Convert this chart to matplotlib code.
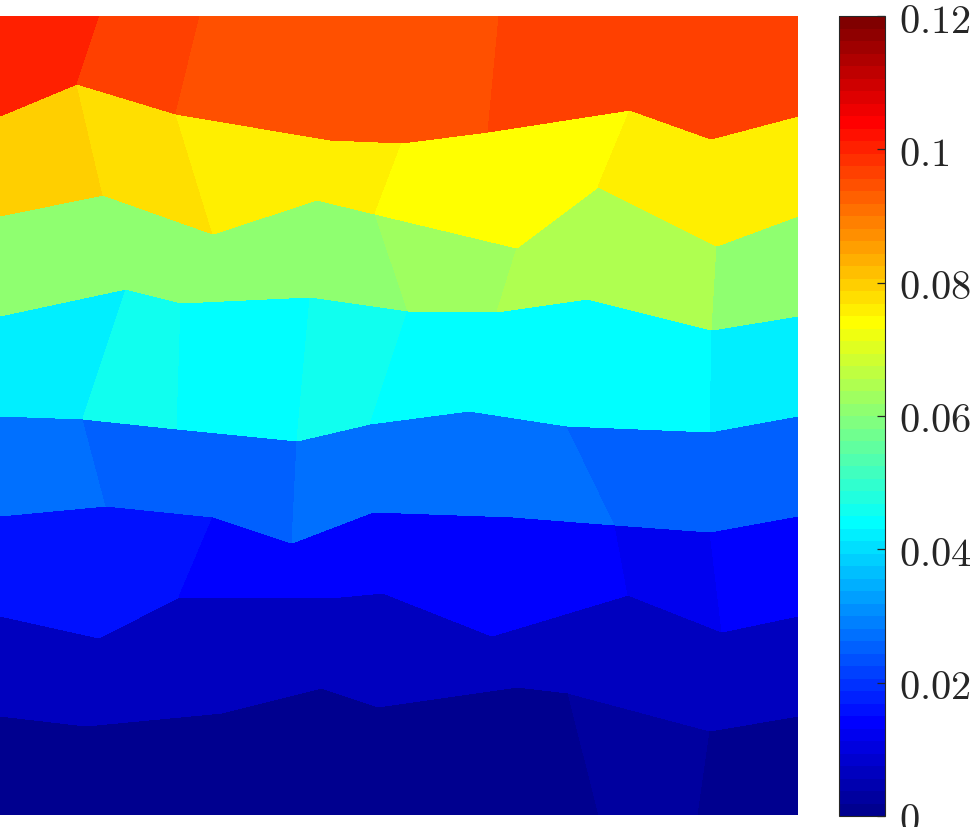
"""
Flat-shaded element field on a perturbed 8x8 quad mesh, MATLAB-style jet(64) colorbar.
"""

import numpy as np
import matplotlib
matplotlib.use("Agg")
import matplotlib.pyplot as plt
from matplotlib.colors import ListedColormap

plt.rcParams.update({
    "mathtext.fontset": "cm",
    "font.size": 29,
})

# ---------------------------------------------------------------------------
# Mesh nodes (9 x 9), row 0 = bottom edge y=0, row 8 = top edge y=1
# ---------------------------------------------------------------------------

node_x = np.array([
    [0, .125, .250, .375, .500, .625, .750, .875, 1],
    [0, .108, .278, .404, .474, .648, .712, .890, 1],
    [0, .124, .224, .414, .480, .617, .787, .905, 1],
    [0, .133, .267, .366, .467, .643, .771, .890, 1],
    [0, .104, .222, .372, .464, .588, .711, .890, 1],
    [0, .158, .227, .388, .511, .623, .736, .892, 1],
    [0, .129, .267, .397, .470, .648, .749, .898, 1],
    [0, .096, .221, .414, .504, .612, .789, .891, 1],
    [0, .125, .250, .375, .500, .625, .750, .875, 1],
])

node_y = np.array([
    [0, 0, 0, 0, 0, 0, 0, 0, 0],
    [.124, .111, .128, .159, .135, .160, .153, .105, .124],
    [.249, .222, .273, .272, .278, .224, .275, .229, .249],
    [.374, .387, .373, .340, .379, .373, .363, .354, .374],
    [.499, .496, .483, .468, .489, .506, .487, .479, .499],
    [.625, .658, .641, .648, .631, .630, .646, .607, .625],
    [.750, .776, .727, .770, .752, .710, .786, .712, .750],
    [.875, .915, .877, .845, .841, .855, .882, .846, .875],
    [1, 1, 1, 1, 1, 1, 1, 1, 1],
])

# element values (8 x 8), row 0 = bottom
elem_val = np.array([
    [.0009, .0009, .0009, .0009, .0009, .0009, .0028, .0009],
    [.0066, .0066, .0066, .0066, .0066, .0066, .0066, .0066],
    [.0159, .0159, .0141, .0141, .0141, .0141, .0122, .0141],
    [.0272, .0253, .0253, .0272, .0272, .0272, .0253, .0253],
    [.0422, .0459, .0441, .0459, .0441, .0441, .0441, .0422],
    [.0609, .0609, .0609, .0609, .0628, .0647, .0647, .0609],
    [.0797, .0778, .0759, .0759, .0741, .0741, .0759, .0759],
    [.1003, .0966, .0947, .0947, .0947, .0966, .0966, .0966],
])

cbar_ticks = [0, 0.02, 0.04, 0.06, 0.08, 0.1, 0.12]
cbar_labels = ["0", "0.02", "0.04", "0.06", "0.08", "0.1", "0.12"]


def matlab_jet(m=64):
    n = int(np.ceil(m / 4))
    u = np.concatenate([np.arange(1, n + 1) / n, np.ones(n - 1), np.arange(n, 0, -1) / n])
    g = int(np.ceil(n / 2)) - (1 if m % 4 == 1 else 0) + np.arange(1, len(u) + 1)
    J = np.zeros((m, 3))
    for ch, idx in ((0, g + n), (1, g), (2, g - n)):
        ok = (idx >= 1) & (idx <= m)
        J[idx[ok] - 1, ch] = u[ok]
    return J


cmap = ListedColormap(matlab_jet(64))

fig = plt.figure(figsize=(9.72, 8.28), dpi=100)
ax = fig.add_axes([0.0, 12 / 828, 798 / 972, 799 / 828])
cax = fig.add_axes([839 / 972, 11 / 828, 46 / 972, 800 / 828])

mesh = ax.pcolormesh(node_x, node_y, elem_val, cmap=cmap, vmin=0, vmax=0.12,
                     shading="flat", edgecolors="none", antialiased=False)
ax.set_xlim(0, 1)
ax.set_ylim(0, 1)
ax.axis("off")

cb = fig.colorbar(mesh, cax=cax)
cb.set_ticks(cbar_ticks)
cb.set_ticklabels([f"${s}$" for s in cbar_labels])
cb.outline.set_edgecolor("#262626")
cb.outline.set_linewidth(0.8)
cax.tick_params(direction="in", length=6, width=0.9, color="#262626",
                pad=10, labelsize=29, labelcolor="#262626")

fig.savefig("out.png", dpi=100)
